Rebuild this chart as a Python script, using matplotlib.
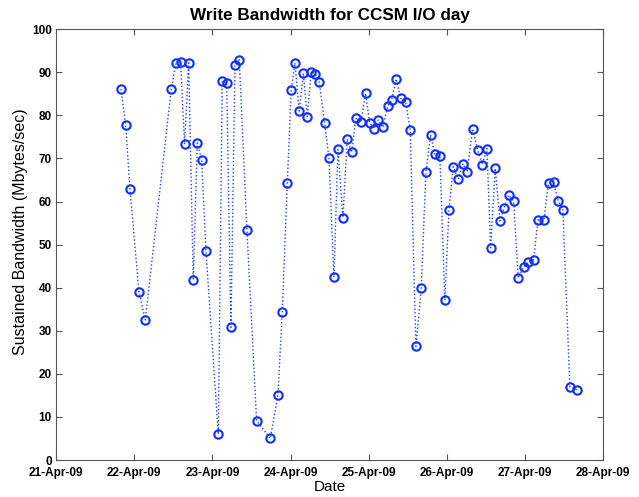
import numpy as np
import pandas as pd
import matplotlib
matplotlib.use("Agg")
from matplotlib import pyplot as plt
import matplotlib.dates as mdates

# Sample times, in days after 21-Apr-2009 00:00
days = [0.831, 0.891, 0.946, 1.061, 1.142, 1.475, 1.535, 1.594, 1.645, 1.697,
        1.756, 1.807, 1.863, 1.918, 2.076, 2.127, 2.183, 2.238, 2.289, 2.344,
        2.442, 2.566, 2.741, 2.839, 2.894, 2.958, 3.009, 3.056, 3.111, 3.163,
        3.214, 3.265, 3.316, 3.367, 3.436, 3.491, 3.555, 3.606, 3.670, 3.725,
        3.781, 3.836, 3.900, 3.960, 4.011, 4.070, 4.122, 4.182, 4.242, 4.293,
        4.352, 4.408, 4.472, 4.531, 4.604, 4.672, 4.731, 4.791, 4.847, 4.910,
        4.974, 5.026, 5.081, 5.145, 5.205, 5.260, 5.328, 5.392, 5.452, 5.512,
        5.559, 5.618, 5.678, 5.733, 5.789, 5.853, 5.912, 5.981, 6.040, 6.109,
        6.164, 6.240, 6.300, 6.364, 6.423, 6.483, 6.573, 6.662]

# Sustained write bandwidth (Mbytes/sec)
bandwidth = [86.1, 77.8, 63.0, 39.1, 32.5, 86.2, 92.1, 92.3, 73.3, 92.2,
             41.9, 73.6, 69.7, 48.6, 6.0, 88.0, 87.5, 30.8, 91.7, 92.9,
             53.5, 9.1, 5.0, 15.1, 34.4, 64.2, 86.0, 92.2, 81.0, 89.8,
             79.7, 90.1, 89.7, 87.8, 78.3, 70.2, 42.5, 72.1, 56.3, 74.5,
             71.4, 79.3, 78.5, 85.1, 78.3, 76.9, 79.0, 77.2, 82.2, 83.5,
             88.5, 84.0, 83.2, 76.5, 26.4, 39.9, 66.8, 75.5, 71.0, 70.6,
             37.1, 58.0, 68.1, 65.2, 68.8, 66.9, 76.9, 72.0, 68.6, 72.3,
             49.3, 67.7, 55.5, 58.6, 61.5, 60.1, 42.3, 44.8, 46.0, 46.5,
             55.7, 55.7, 64.3, 64.5, 60.2, 58.1, 17.0, 16.3]

start = pd.Timestamp("2009-04-21")
t = start + pd.to_timedelta(days, unit="D")

plt.rcParams['font.family'] = ['Liberation Sans', 'DejaVu Sans']

fig = plt.figure(figsize=(6.39, 4.97), dpi=100)
ax = fig.add_axes([0.0876, 0.0744, 0.8565, 0.8667])

ax.plot(t, bandwidth, ':', color='#2040ff', linewidth=1.0,
        marker='o', markersize=6, markerfacecolor='none',
        markeredgecolor='#1030ff', markeredgewidth=1.5)

ax.set_xlim(pd.Timestamp("2009-04-21"), pd.Timestamp("2009-04-28"))
ax.set_ylim(0, 100)
ax.xaxis.set_major_locator(mdates.DayLocator())
ax.xaxis.set_major_formatter(mdates.DateFormatter('%d-%b-%y'))
ax.set_yticks(np.arange(0, 101, 10))

ax.tick_params(direction='in', top=True, right=True, length=4,
               color='#555555', labelsize=8.5)
ax.tick_params(axis='x', pad=5)
ax.tick_params(axis='y', pad=3)
for lab in ax.get_xticklabels() + ax.get_yticklabels():
    lab.set_fontweight('bold')
for s in ax.spines.values():
    s.set_color('#555555')
    s.set_linewidth(0.8)

ax.set_title('Write Bandwidth for CCSM I/O day', fontsize=12.3,
             fontweight='bold', pad=7)
ax.set_xlabel('Date', fontsize=11, labelpad=1)
ax.set_ylabel('Sustained Bandwidth (Mbytes/sec)', fontsize=11.5)
ax.yaxis.set_label_coords(-0.052, 0.53)

fig.savefig('out.png', dpi=100)
